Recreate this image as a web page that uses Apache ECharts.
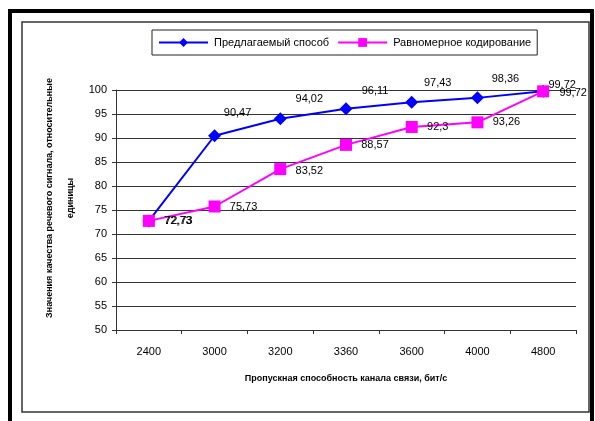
<!DOCTYPE html>
<html>
<head>
<meta charset="utf-8">
<script src="https://cdn.jsdelivr.net/npm/echarts@6/dist/echarts.min.js"></script>
<style>
html,body{margin:0;padding:0;background:#fff;}
#chart{width:595px;height:421px;}
</style>
</head>
<body>
<div id="chart"></div>
<script>
const categories = ['2400', '3000', '3200', '3360', '3600', '4000', '4800'];
const proposedValues = [72.73, 90.47, 94.02, 96.11, 97.43, 98.36, 99.72];
const uniformValues = [72.73, 75.73, 83.52, 88.57, 92.3, 93.26, 99.72];
const seriesNames = ['Предлагаемый способ', 'Равномерное кодирование'];
const xAxisTitle = 'Пропускная способность канала связи, бит/с';
const yAxisTitle = 'Значения качества речевого сигнала, относительные\nединицы';

// label offsets (visual placement only)
const proposedLabelOffsets = [[30, 0], [23, -23], [29, -20], [29, -18], [26, -19], [28, -19], [19, -6]];
const uniformLabelOffsets = [[29, 0], [29, 0], [29, 2], [29, 0], [26, 0], [29, 0], [30, 2]];

const fmt = v => String(v).replace('.', ',');
const FONT = '"Liberation Sans", Arial, sans-serif';

function buildData(values, offsets) {
  return values.map((v, i) => ({
    value: v,
    label: { offset: offsets[i] }
  }));
}

const chart = echarts.init(document.getElementById('chart'), null, { renderer: 'canvas' });
chart.setOption({
  backgroundColor: '#fff',
  animation: false,
  textStyle: { fontFamily: FONT },
  graphic: [
    { type: 'rect', shape: { x: 22, y: 22, width: 567, height: 390 }, style: { fill: 'none', stroke: '#333', lineWidth: 1.5 }, z: 0 },
    { type: 'rect', shape: { x: 10, y: 11, width: 582, height: 440 }, style: { fill: 'none', stroke: '#000', lineWidth: 4 }, z: 0 }
  ],
  legend: {
    left: 152, top: 30,
    padding: [7, 6],
    itemWidth: 49, itemHeight: 11, itemGap: 8,
    borderColor: '#222', borderWidth: 1,
    textStyle: { fontSize: 11, color: '#000', fontFamily: FONT, padding: [0, 0, 0, 1] },
    data: seriesNames
  },
  grid: { left: 116, right: 19, top: 90, bottom: 91, containLabel: false },
  xAxis: {
    type: 'category',
    data: categories,
    boundaryGap: true,
    name: xAxisTitle,
    nameLocation: 'middle',
    nameGap: 44,
    nameMoveOverlap: false,
    nameTextStyle: { fontSize: 9, fontWeight: 'bold', color: '#000', fontFamily: FONT },
    axisLine: { lineStyle: { color: '#333', width: 1 } },
    axisTick: { show: true, inside: false, length: 4, alignWithLabel: false, lineStyle: { color: '#333' } },
    axisLabel: { fontSize: 11, color: '#000', margin: 16, fontFamily: FONT },
    splitLine: { show: false }
  },
  yAxis: {
    type: 'value',
    min: 50, max: 100, interval: 5,
    name: yAxisTitle,
    nameLocation: 'middle',
    nameRotate: 90,
    nameGap: 35,
    nameMoveOverlap: false,
    nameTextStyle: { fontSize: 9, fontWeight: 'bold', color: '#000', lineHeight: 21, fontFamily: FONT, padding: [0, 0, 0, 24] },
    axisLine: { show: true, lineStyle: { color: '#333', width: 1 } },
    axisTick: { show: true, length: 4, lineStyle: { color: '#333' } },
    axisLabel: { fontSize: 11, color: '#000', margin: 9, fontFamily: FONT },
    splitLine: { show: true, lineStyle: { color: '#333', width: 1 } }
  },
  series: [
    {
      name: seriesNames[0],
      type: 'line',
      data: buildData(proposedValues, proposedLabelOffsets),
      symbol: 'diamond', symbolSize: 13,
      itemStyle: { color: '#0000FF' },
      lineStyle: { color: '#0000FF', width: 2 },
      label: { show: true, position: 'inside', fontSize: 11, color: '#000', fontFamily: FONT, formatter: p => fmt(p.value) }
    },
    {
      name: seriesNames[1],
      type: 'line',
      data: buildData(uniformValues, uniformLabelOffsets),
      symbol: 'rect', symbolSize: 12,
      itemStyle: { color: '#FF00FF' },
      lineStyle: { color: '#FF00FF', width: 2 },
      label: { show: true, position: 'inside', fontSize: 11, color: '#000', fontFamily: FONT, formatter: p => fmt(p.value) }
    }
  ]
});
</script>
</body>
</html>
